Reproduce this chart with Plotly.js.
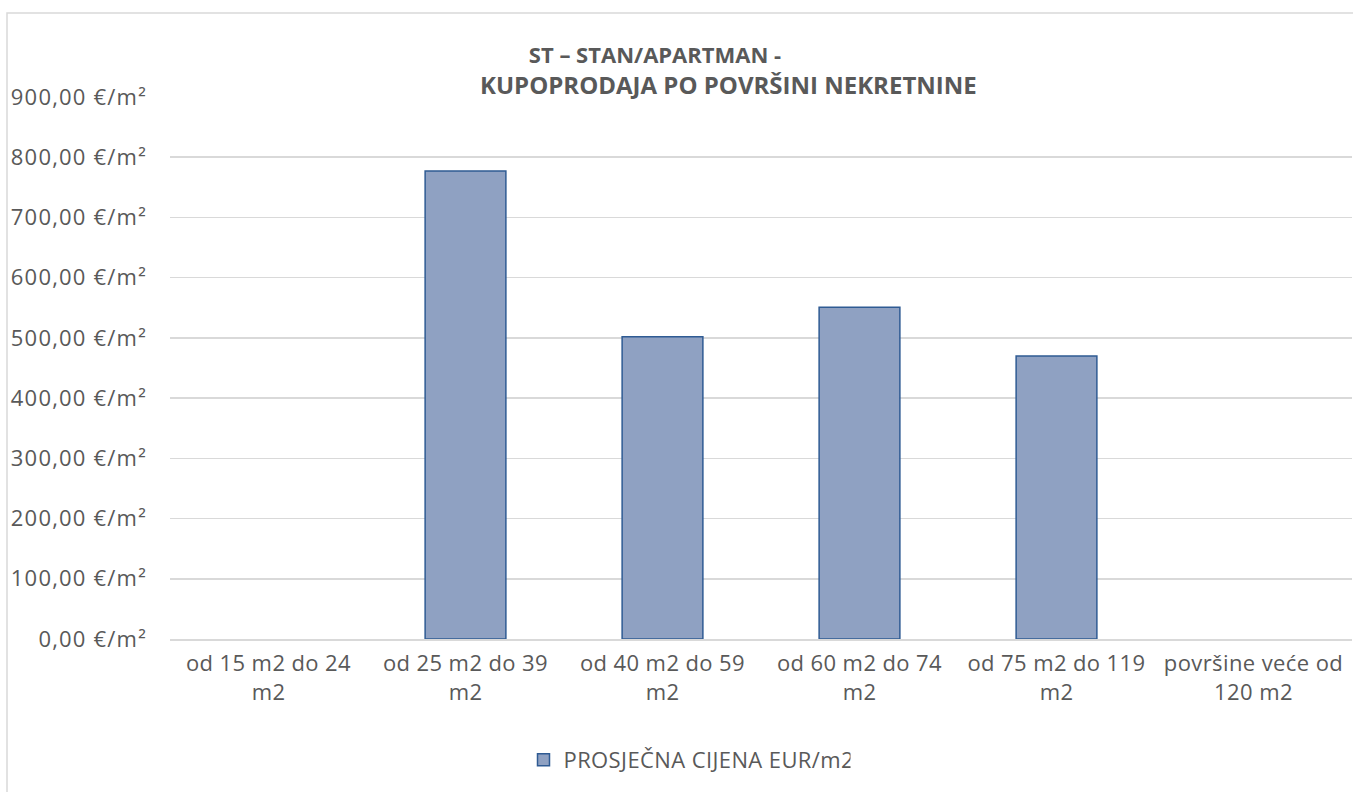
<!DOCTYPE html>
<html><head><meta charset="utf-8">
<script src="https://cdn.plot.ly/plotly-3.0.1.min.js"></script>
<style>html,body{margin:0;padding:0;background:#fff}#chart{width:1353px;height:792px}
#chart .xtick text, #chart .legendtext {letter-spacing: 0.4px}
#chart .ytick text {letter-spacing: 1.2px}</style>
</head><body><div id="chart"></div>
<script>
const categories = ["od 15 m2 do 24<br>m2","od 25 m2 do 39<br>m2","od 40 m2 do 59<br>m2","od 60 m2 do 74<br>m2","od 75 m2 do 119<br>m2","površine veće od<br>120 m2"];
const prices = [null, 777, 502, 551, 470, null];
const seriesName = "PROSJEČNA CIJENA EUR/m2";
const titleLine1 = "ST – STAN/APARTMAN -";
const titleLine2 = "KUPOPRODAJA PO POVRŠINI NEKRETNINE";

const font = "'Open Sans', sans-serif";
const grey = "#595959";

Plotly.newPlot("chart", [{
  type: "bar", x: categories, y: prices, name: seriesName,
  width: 0.41,
  marker: {color: "#8fa1c2", line: {color: "#2f5b93", width: 1.5}},
  showlegend: true
}], {
  width: 1353, height: 792,
  margin: {l: 170, r: 1, t: 97, b: 153},
  paper_bgcolor: "#fff", plot_bgcolor: "#fff",
  separators: ",.",
  font: {family: font, color: grey, size: 22},
  title: {text: "<b>" + titleLine1 + "</b>", x: 655/1353, xanchor: "center", xref: "container",
          y: 1 - 55/792, yanchor: "middle", yref: "container",
          font: {family: font, size: 22, color: grey}},
  annotations: [{text: "<b>" + titleLine2 + "</b>", xref: "paper", yref: "paper",
                 x: (728-170)/1182, y: (639-84)/542, xanchor: "center", yanchor: "middle",
                 showarrow: false, font: {family: font, size: 24, color: grey}}],
  xaxis: {type: "category", showgrid: false, showline: true, linecolor: "#d9d9d9", linewidth: 1.5,
          ticks: "", tickfont: {size: 22, color: grey}, ticklabelstandoff: 4},
  yaxis: {range: [0, 900], dtick: 100, tick0: 0, tickformat: ".2f", ticksuffix: " €/m²",
          showgrid: true, gridcolor: "#d9d9d9", gridwidth: 1.5, zeroline: false,
          showline: false, ticks: "", tickfont: {size: 22, color: grey}, ticklabelstandoff: 22},
  legend: {orientation: "h", xref: "container", yref: "container", x: 687/1353, xanchor: "center",
           y: 1 - 760/792, yanchor: "middle", font: {size: 22, color: grey}, itemwidth: 30},
  shapes: [{type: "rect", xref: "paper", yref: "paper", x0: (7-170)/1182, x1: (1360-170)/1182,
            y0: (639-800)/542, y1: (639-13)/542, line: {color: "#d9d9d9", width: 1.5}, fillcolor: "rgba(0,0,0,0)", layer: "below"}]
}, {displayModeBar: false, staticPlot: true});
</script></body></html>
